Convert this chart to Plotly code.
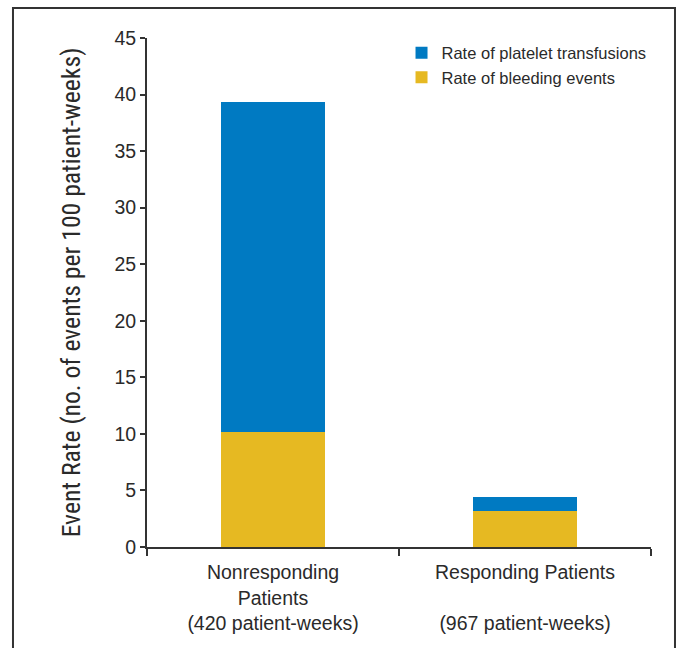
import plotly.graph_objects as go

# Event rates per 100 patient-weeks
categories = [
    "Nonresponding<br>Patients<br>(420 patient-weeks)",
    "Responding Patients<br> <br>(967 patient-weeks)",
]
bleeding_rate = [10.2, 3.15]
transfusion_rate = [29.1, 1.25]

series_names = ["Rate of bleeding events", "Rate of platelet transfusions"]
series_colors = ["#E6B922", "#007AC2"]

y_ticks = [0, 5, 10, 15, 20, 25, 30, 35, 40, 45]

fig = go.Figure()
fig.add_trace(go.Bar(
    x=categories, y=bleeding_rate, name=series_names[0],
    marker=dict(color=series_colors[0], line=dict(width=0)),
    width=0.41, legendgroup="b", legendrank=2,
))
fig.add_trace(go.Bar(
    x=categories, y=transfusion_rate, name=series_names[1],
    marker=dict(color=series_colors[1], line=dict(width=0)),
    width=0.41, legendgroup="a", legendrank=1,
))

axis_color = "#333333"
fig.update_layout(
    width=679, height=648,
    margin=dict(l=147, r=28, t=38, b=101),
    barmode="stack",
    plot_bgcolor="white", paper_bgcolor="white",
    font=dict(family="Liberation Sans, Arial, sans-serif", color="#2a2a2a"),
    showlegend=True,
    legend=dict(
        x=0.505, y=1.005, xanchor="left", yanchor="top",
        traceorder="grouped", tracegroupgap=0,
        font=dict(size=16.5, color="#2a2a2a"),
        bgcolor="rgba(0,0,0,0)",
    ),
    xaxis=dict(
        showline=True, linecolor=axis_color, linewidth=2,
        ticks="outside", tickson="boundaries", ticklen=7, tickwidth=1.5,
        tickcolor=axis_color, ticklabelstandoff=7,
        tickfont=dict(size=19.5, color="#2a2a2a"),
        showgrid=False, zeroline=False,
    ),
    yaxis=dict(
        range=[0, 45], tickvals=y_ticks,
        showline=True, linecolor=axis_color, linewidth=2,
        ticks="outside", ticklen=5, tickwidth=1.5, tickcolor=axis_color,
        tickfont=dict(size=19.5, color="#2a2a2a"),
        showgrid=False, zeroline=False,
        title=dict(
            text="Event Rate (no. of events per 100 patient-weeks)",
            font=dict(size=25.7, family="Liberation Sans Narrow, Arial Narrow, Roboto Condensed, sans-serif",
                      color="#2a2a2a"),
            standoff=26,
        ),
    ),
)

# Outer frame around the figure
fig.add_shape(
    type="rect", xref="paper", yref="paper",
    x0=-0.2659, x1=1.0476, y0=-0.25, y1=1.0589,
    line=dict(color="#333333", width=2), fillcolor="rgba(0,0,0,0)",
    layer="below",
)

fig.write_html("out.html")
